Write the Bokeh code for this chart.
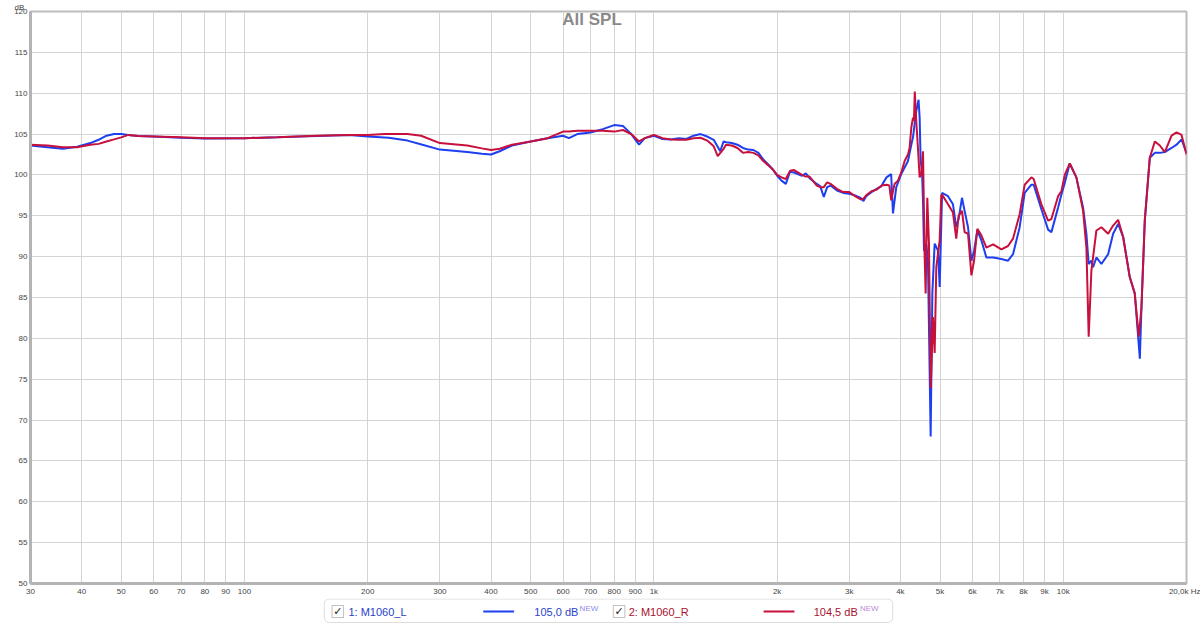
from bokeh.plotting import figure
from bokeh.models import FixedTicker, Range1d, Label, BoxAnnotation, Title
from bokeh.layouts import column
from bokeh.embed import file_html
from bokeh.resources import INLINE

# ---------------- data ----------------
freq_L = [30, 33, 36, 39, 42, 44, 46, 48, 50, 52,
          55, 60, 70, 80, 100, 120, 150, 180, 200, 225,
          250, 272, 300, 350, 380, 400, 420, 450, 500, 550,
          600, 620, 650, 700, 750, 800, 840, 880, 920, 950,
          1000, 1050, 1100, 1150, 1200, 1250, 1300, 1350, 1400, 1452,
          1480, 1500, 1550, 1600, 1650, 1700, 1750, 1800, 1850, 1900,
          1950, 2000, 2050, 2100, 2150, 2200, 2300, 2350, 2400, 2500,
          2550, 2600, 2650, 2700, 2800, 2900, 3000, 3100, 3200, 3250,
          3300, 3400, 3500, 3592, 3700, 3798, 3837, 3909, 4020, 4097,
          4175, 4254, 4294, 4338, 4374, 4431, 4458, 4483, 4518, 4543,
          4569, 4629, 4671, 4743, 4788, 4851, 4945, 4990, 5058, 5229,
          5377, 5478, 5550, 5657, 5741, 5853, 5965, 6054, 6167, 6308,
          6489, 6739, 7059, 7330, 7538, 7825, 8049, 8358, 8466, 8842,
          9182, 9354, 9713, 9897, 10083, 10371, 10765, 11180, 11390, 11538,
          11714, 11826, 12049, 12392, 12870, 13236, 13616, 14006, 14535, 14949,
          15384, 15525, 15817, 16270, 16735, 17213, 17706, 18386, 18912, 19453,
          20000]
spl_L = [103.6, 103.4, 103.2, 103.45, 103.9, 104.3, 104.8, 105.0, 105.0, 104.9,
         104.75, 104.7, 104.55, 104.45, 104.5, 104.6, 104.75, 104.9, 104.7, 104.55,
         104.2, 103.7, 103.1, 102.8, 102.6, 102.5, 102.9, 103.6, 104.1, 104.5,
         104.8, 104.5, 105.0, 105.2, 105.6, 106.1, 106.0, 105.0, 103.7, 104.5,
         104.8, 104.4, 104.35, 104.5, 104.4, 104.8, 105.0, 104.7, 104.3, 102.9,
         104.1, 104.0, 103.9, 103.7, 103.3, 103.1, 103.05, 102.7, 101.9, 101.3,
         100.7, 99.9, 99.3, 98.9, 100.4, 100.3, 99.9, 100.2, 99.6, 98.9,
         98.6, 97.3, 98.5, 98.7, 98.1, 97.8, 97.7, 97.5, 97.2, 96.8,
         97.4, 97.9, 98.3, 98.6, 99.7, 100.1, 95.3, 98.5, 100.1, 100.9,
         101.7, 103.7, 104.6, 106.4, 107.8, 109.2, 107.0, 101.7, 100.5, 96.8,
         90.7, 91.5, 89.5, 68.0, 85.5, 91.6, 90.7, 86.3, 97.8, 97.4,
         96.4, 93.6, 94.6, 97.2, 95.6, 93.6, 89.5, 90.7, 93.2, 92.0,
         89.9, 89.9, 89.7, 89.5, 90.3, 93.6, 97.8, 98.8, 98.8, 95.8,
         93.3, 93.0, 96.0, 97.6, 99.0, 101.4, 99.7, 96.0, 92.8, 89.1,
         89.5, 88.7, 89.9, 89.1, 90.3, 92.8, 94.0, 92.4, 87.5, 85.5,
         77.5, 83.8, 94.4, 102.1, 102.7, 102.7, 102.8, 103.3, 103.7, 104.35,
         102.7]

freq_R = [30, 33, 36, 39, 42, 44, 46, 48, 50, 52,
          55, 60, 70, 80, 100, 120, 150, 180, 200, 220,
          250, 270, 300, 350, 380, 400, 420, 450, 500, 550,
          600, 620, 650, 700, 750, 800, 840, 880, 920, 950,
          1000, 1050, 1100, 1150, 1200, 1250, 1300, 1350, 1400, 1432,
          1480, 1500, 1550, 1600, 1650, 1700, 1750, 1800, 1850, 1900,
          1950, 2000, 2050, 2100, 2150, 2200, 2300, 2350, 2400, 2500,
          2550, 2600, 2650, 2700, 2800, 2900, 3000, 3100, 3200, 3250,
          3300, 3400, 3500, 3600, 3700, 3760, 3798, 3871, 3946, 4020,
          4097, 4175, 4213, 4254, 4294, 4317, 4338, 4374, 4416, 4458,
          4499, 4543, 4584, 4611, 4654, 4698, 4743, 4806, 4851, 4896,
          4990, 5036, 5086, 5229, 5377, 5478, 5550, 5657, 5741, 5853,
          5965, 6054, 6167, 6308, 6489, 6739, 7059, 7330, 7538, 7825,
          8049, 8358, 8466, 8842, 9182, 9354, 9713, 9897, 10083, 10371,
          10765, 11180, 11390, 11538, 11714, 12049, 12392, 12870, 13236, 13616,
          14006, 14535, 14949, 15291, 15525, 15817, 16270, 16735, 17213, 17706,
          18386, 18912, 19453, 20000]
spl_R = [103.7, 103.6, 103.4, 103.4, 103.7, 103.8, 104.1, 104.35, 104.6, 104.9,
         104.75, 104.7, 104.6, 104.5, 104.5, 104.6, 104.8, 104.9, 104.9, 105.0,
         105.0, 104.8, 103.9, 103.6, 103.25, 103.05, 103.2, 103.7, 104.1, 104.5,
         105.3, 105.3, 105.4, 105.4, 105.4, 105.3, 105.5, 105.0, 104.1, 104.5,
         104.9, 104.5, 104.35, 104.3, 104.3, 104.5, 104.55, 104.2, 103.5, 102.3,
         103.2, 103.7, 103.6, 103.3, 102.7, 102.8, 102.7, 102.4, 101.7, 101.2,
         100.7, 100.0, 99.7, 99.5, 100.5, 100.6, 100.0, 99.8, 99.8, 98.7,
         98.5, 98.5, 99.1, 98.9, 98.3, 97.9, 97.9, 97.4, 97.0, 97.1,
         97.5, 98.0, 98.2, 98.7, 98.8, 98.7, 96.9, 98.9, 99.3, 100.3,
         101.7, 102.5, 103.3, 105.8, 107.0, 106.6, 110.2, 106.6, 103.3, 99.7,
         100.1, 102.9, 90.3, 85.5, 97.2, 91.6, 73.9, 82.6, 78.2, 88.7,
         92.0, 97.6, 97.4, 96.4, 95.4, 92.2, 95.0, 95.6, 93.0, 92.8,
         87.7, 89.5, 93.4, 92.6, 91.1, 91.5, 90.9, 91.3, 92.2, 95.2,
         98.8, 99.7, 99.5, 96.4, 94.4, 94.6, 97.4, 98.0, 100.0, 101.4,
         99.7, 95.6, 91.1, 80.2, 88.3, 93.2, 93.6, 92.8, 93.8, 94.5,
         92.4, 87.5, 85.5, 80.2, 83.8, 94.4, 102.1, 104.1, 103.6, 102.8,
         104.8, 105.2, 104.9, 102.5]

x_ticks = [30, 40, 50, 60, 70, 80, 90, 100, 200, 300, 400, 500, 600, 700, 800, 900,
           1000, 2000, 3000, 4000, 5000, 6000, 7000, 8000, 9000, 10000, 20000]
x_labels = ["30", "40", "50", "60", "70", "80", "90", "100", "200", "300", "400", "500",
            "600", "700", "800", "900", "1k", "2k", "3k", "4k", "5k", "6k", "7k", "8k",
            "9k", "10k", "20,0k Hz"]
y_ticks = [50, 55, 60, 65, 70, 75, 80, 85, 90, 95, 100, 105, 110, 115, 120]

series_names = ["1: M1060_L", "2: M1060_R"]
series_levels = ["105,0 dB", "104,5 dB"]

BLUE = "#1d3ff0"
RED = "#c8103c"
FONT = "Liberation Sans"

# ---------------- main plot ----------------
p = figure(width=1200, height=598, x_axis_type="log",
           x_range=Range1d(30, 20000), y_range=Range1d(50, 120),
           output_backend="svg", toolbar_location=None,
           min_border_left=30, min_border_right=14,
           min_border_top=10, min_border_bottom=14,
           background_fill_color="white", border_fill_color="white",
           outline_line_color="#bcbcbc", outline_line_width=2)

p.add_layout(Title(text="dB", align="left", offset=-16, standoff=0,
                   text_font_size="8px", text_font_style="normal",
                   text_color="#444444", text_font=FONT), "above")

p.xaxis.ticker = FixedTicker(ticks=x_ticks, minor_ticks=[])
p.xgrid.ticker = FixedTicker(ticks=x_ticks, minor_ticks=[])
p.xaxis.major_label_overrides = dict(zip(x_ticks, x_labels))
p.yaxis.ticker = FixedTicker(ticks=y_ticks, minor_ticks=[])
p.ygrid.ticker = FixedTicker(ticks=y_ticks, minor_ticks=[])

for ax in (p.xaxis, p.yaxis):
    ax.major_tick_line_color = None
    ax.minor_tick_line_color = None
    ax.major_tick_out = 0
    ax.major_tick_in = 0
    ax.minor_tick_out = 0
    ax.minor_tick_in = 0
    ax.axis_line_color = "#b4b4b4"
    ax.axis_line_width = 3
    ax.major_label_text_font_size = "8px"
    ax.major_label_text_color = "#444444"
    ax.major_label_text_font = FONT
    ax.major_label_standoff = 3

for g in (p.xgrid, p.ygrid):
    g.grid_line_color = "#d4d4d4"
    g.grid_line_width = 1

p.line(freq_L, spl_L, line_color=BLUE, line_width=2)
p.line(freq_R, spl_R, line_color=RED, line_width=2)

p.add_layout(Label(x=706, y=119.0, text="All SPL", text_align="center",
                   text_baseline="middle", text_font_size="17px",
                   text_font_style="bold", text_color="#8a8a8a", text_font=FONT))

# ---------------- legend strip ----------------
leg = figure(width=1200, height=27, x_range=Range1d(0, 1200), y_range=Range1d(0, 27),
             output_backend="svg", toolbar_location=None, min_border=0,
             x_axis_location=None, y_axis_location=None, outline_line_color=None,
             background_fill_color="white", border_fill_color="white")
leg.grid.visible = False

leg.add_layout(BoxAnnotation(left=305, right=895, bottom=3, top=26.5,
                             fill_color="white", fill_alpha=1.0,
                             line_color="#8f8f8f", line_width=1, border_radius=5))

entries = [
    dict(cb=313, name_x=330, line0=470, line1=502, lvl_x=523, new_x=570,
         color=BLUE, text_color="#2a3fc8", new_color="#8d8de8"),
    dict(cb=605, name_x=621, line0=761, line1=793, lvl_x=813, new_x=861,
         color=RED, text_color="#a8102e", new_color="#b98ad8"),
]
for i, e in enumerate(entries):
    leg.add_layout(BoxAnnotation(left=e["cb"], right=e["cb"] + 12, bottom=8, top=20,
                                 fill_color="white", fill_alpha=1.0,
                                 line_color="#333333", line_width=1))
    leg.add_layout(Label(x=e["cb"] + 6, y=14, text="\u2713", text_align="center",
                         text_baseline="middle", text_font_size="11px",
                         text_color="#222222", text_font="DejaVu Sans"))
    leg.add_layout(Label(x=e["name_x"], y=14, text=series_names[i],
                         text_baseline="middle", text_font_size="11px",
                         text_color=e["text_color"], text_font=FONT))
    leg.add_layout(BoxAnnotation(left=e["line0"], right=e["line1"], bottom=13, top=15,
                                 fill_color=e["color"], fill_alpha=1.0, line_color=None))
    leg.add_layout(Label(x=e["lvl_x"], y=14, text=series_levels[i],
                         text_baseline="middle", text_font_size="11px",
                         text_color=e["text_color"], text_font=FONT))
    leg.add_layout(Label(x=e["new_x"], y=17.5, text="NEW",
                         text_baseline="middle", text_font_size="8px",
                         text_color=e["new_color"], text_font=FONT))

layout = column(p, leg, spacing=0)
open("out.html", "w").write(file_html(layout, INLINE))
